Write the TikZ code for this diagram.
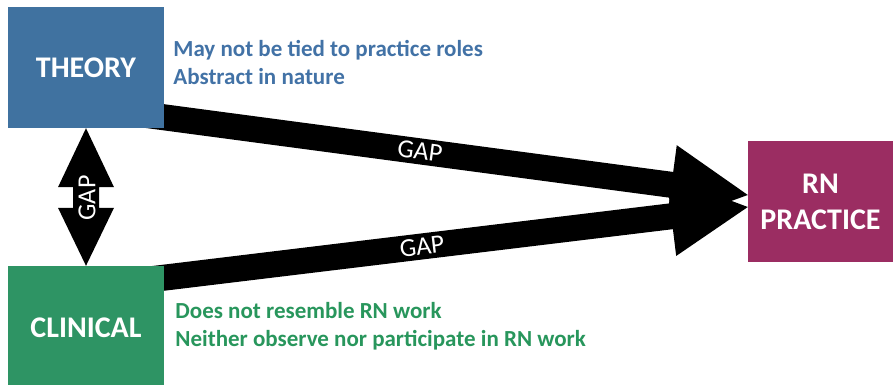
\documentclass[tikz,border=0pt]{standalone}
\usepackage{fontspec}
\setmainfont{Carlito}
\usetikzlibrary{calc,backgrounds}
\definecolor{thblue}{RGB}{64,114,160}
\definecolor{txblue}{RGB}{66,114,166}
\definecolor{clgreen}{RGB}{46,148,100}
\definecolor{txgreen}{RGB}{40,150,92}
\definecolor{rnmaroon}{RGB}{155,45,98}
\tikzset{
  box/.style={rectangle, inner sep=0pt, text=white, font=\bfseries\fontsize{30}{36}\selectfont, align=center},
  gaplabel/.style={text=white, font=\fontsize{26}{26}\selectfont, inner sep=0pt},
  sidetext/.style={anchor=base west, inner sep=0pt, align=left, font=\bfseries\fontsize{23}{28.5}\selectfont},
  bigarrow/.style={fill=black, draw=none}
}
\begin{document}
\begin{tikzpicture}[x=1pt,y=-1pt]
\useasboundingbox (0,0) rectangle (893,385);
% boxes
\node[box, fill=thblue, minimum width=156pt, minimum height=121pt] (theory) at (86,67.5) {THEORY};
\node[box, fill=clgreen, minimum width=156pt, minimum height=124pt] (clinical) at (86,328) {CLINICAL};
\node[box, fill=rnmaroon, minimum width=145pt, minimum height=121pt] (rn) at (820.5,201.5) {RN\\PRACTICE};
% arrow end points
\coordinate (s1) at ($(theory.south east)+(-40,-16.2)$);
\coordinate (t1) at ($(rn.west)+(0,-6.5)$);
\coordinate (s2) at ($(clinical.north east)+(-40,16.7)$);
\coordinate (t2) at ($(rn.west)+(0,5.5)$);
\coordinate (b1) at ($(t1)!77pt!(s1)$);
\coordinate (b2) at ($(t2)!77pt!(s2)$);
\begin{scope}[on background layer]
% upper arrow
\fill[bigarrow] ($(s1)!13pt!90:(t1)$) -- ($(b1)!13pt!-90:(s1)$) -- ($(b1)!40pt!-90:(s1)$) -- (t1)
  -- ($(b1)!40pt!90:(s1)$) -- ($(b1)!13pt!90:(s1)$) -- ($(s1)!13pt!-90:(t1)$) -- cycle;
% lower arrow
\fill[bigarrow] ($(s2)!13pt!90:(t2)$) -- ($(b2)!13pt!-90:(s2)$) -- ($(b2)!40pt!-90:(s2)$) -- (t2)
  -- ($(b2)!40pt!90:(s2)$) -- ($(b2)!13pt!90:(s2)$) -- ($(s2)!13pt!-90:(t2)$) -- cycle;
\end{scope}
\path (s1) -- (t1) node[gaplabel, sloped, pos=0.4744] (gap1) {GAP};
\path (s2) -- (t2) node[gaplabel, sloped, pos=0.4776] (gap2) {GAP};
% vertical double arrow
\fill[bigarrow] (theory.south) -- ($(theory.south)+(28,59)$) -- ($(theory.south)+(13,59)$)
  -- ($(clinical.north)+(13,-58)$) -- ($(clinical.north)+(28,-58)$) -- (clinical.north)
  -- ($(clinical.north)+(-28,-58)$) -- ($(clinical.north)+(-13,-58)$)
  -- ($(theory.south)+(-13,59)$) -- ($(theory.south)+(-28,59)$) -- cycle;
\node[gaplabel, rotate=90] (gap3) at (87,198) {GAP};
% side texts
\node[sidetext, text=txblue] (thtext) at ($(theory.north east)+(9,78)$) {May not be tied to practice roles\\Abstract in nature};
\node[sidetext, text=txgreen] (cltext) at ($(clinical.north east)+(11,81)$) {Does not resemble RN work\\Neither observe nor participate in RN work};
\end{tikzpicture}
\end{document}
